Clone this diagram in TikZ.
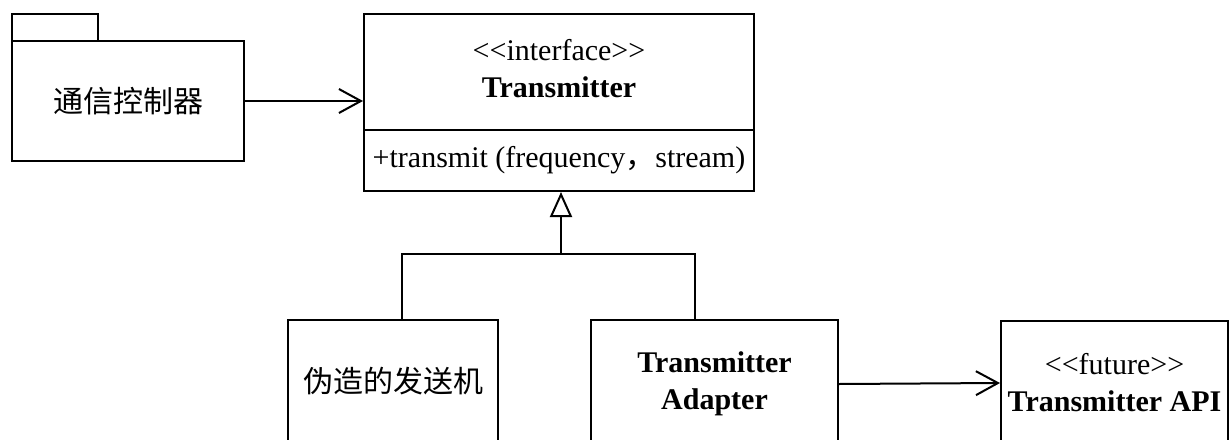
\documentclass[tikz,border=0pt]{standalone}
\usepackage{fontspec}
\setmainfont{Liberation Serif}
\newfontfamily\cjk{Noto Sans CJK SC}
\usetikzlibrary{arrows.meta}
\newcommand{\lguil}{<\kern0pt<}
\newcommand{\rguil}{>\kern0pt>}
\tikzset{
  box/.style={draw, line width=2pt, rectangle, inner sep=0pt, align=center, anchor=north west},
  conn/.style={line width=2pt},
  assoc/.style={conn, -{Straight Barb[length=22pt,width=24pt,line width=2pt]}},
  gen/.style={conn, -{Triangle[open,length=25pt,width=22pt,line width=2pt,fill=white]}},
  txt/.style={font=\fontsize{30}{37}\selectfont}
}
\begin{document}
\begin{tikzpicture}[x=1pt,y=-1pt]
\useasboundingbox (0,0) rectangle (1231,439);
\clip (0,0) rectangle (1231,439);
% package
\node[box, minimum width=86pt, minimum height=27pt] (tab) at (11,13) {};
\node[box, minimum width=232pt, minimum height=120pt, txt] (pkg) at (11,40) {\cjk 通信控制器};
% interface class
\node[box, minimum width=390pt, minimum height=116pt, txt] (tx) at (363,13)
  {\raisebox{6pt}{\begin{tabular}{@{}c@{}}\lguil interface\rguil\\\textbf{Transmitter}\end{tabular}}};
\node[box, minimum width=390pt, minimum height=61pt, txt] (txops) at (363,129)
  {+transmit (frequency{\cjk ，}stream)};
% implementations
\node[box, minimum width=210pt, minimum height=122pt, txt] (fake) at (287,319) {\cjk 伪造的发送机};
\node[box, minimum width=247pt, minimum height=128pt, txt] (adapter) at (590,319)
  {\textbf{Transmitter}\\\textbf{Adapter}};
\node[box, minimum width=227pt, minimum height=124pt, txt] (api) at (1000,320)
  {\lguil future\rguil\\\textbf{Transmitter API}};
% connectors
\draw[assoc] (pkg.east) -- (pkg.east -| tx.west);
\coordinate (j) at (561,254);
\draw[conn] (fake.north -| 402,0) |- (j);
\draw[conn] (adapter.north -| 695,0) |- (j);
\draw[gen] (j) -- (txops.south -| j);
\draw[assoc] (adapter.east) -- (api.west);
\end{tikzpicture}
\end{document}
